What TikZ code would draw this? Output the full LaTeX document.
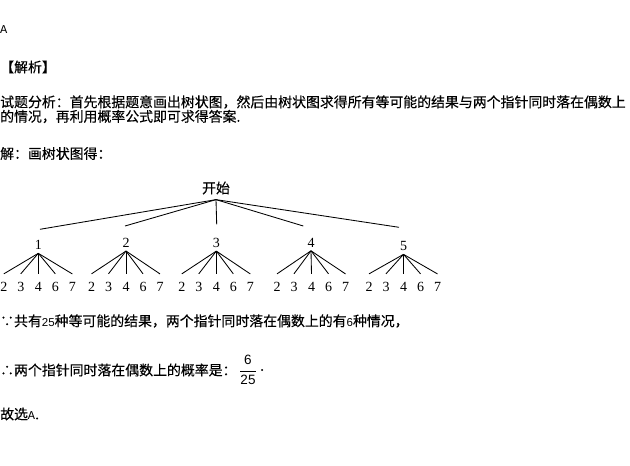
\documentclass[tikz,border=0pt]{standalone}
\usepackage{fontspec}
\newfontfamily\cjk[FakeBold=0.3]{Noto Sans CJK SC}
\newfontfamily\monofnt{Liberation Mono}
\newfontfamily\seriffnt{Liberation Serif}
\newfontfamily\sansfnt{Liberation Sans}
\newcommand{\dg}[1]{{\sansfnt\fontsize{11.5}{14}\selectfont #1}}
\newcommand{\letA}{{\monofnt\fontsize{12}{14}\selectfont A}}
\begin{document}
\begin{tikzpicture}[x=1pt,y=-1pt,
  txt/.style={anchor=west,inner sep=0pt,font=\cjk\fontsize{13.9}{16}\selectfont},
  rootnode/.style={inner xsep=0pt,inner ysep=5pt,font=\cjk\fontsize{13.9}{16}\selectfont},
  lvone/.style={inner xsep=0pt,inner ysep=3.5pt,font=\seriffnt\fontsize{14}{16}\selectfont},
  leaf/.style={inner xsep=0pt,inner ysep=8pt,font=\seriffnt\fontsize{14}{16}\selectfont},
  branch/.style={draw=black,line width=0.85pt},
  fracnum/.style={inner sep=0pt,font=\sansfnt\fontsize{13.5}{15}\selectfont}]
\useasboundingbox[fill=white] (0,0) rectangle (630,466);
% text lines
\node[txt] (ans) at (0,30) {\letA};
\node[txt] (jx) at (0,67) {【解析】};
\node[txt] (l1) at (0,102) {试题分析：首先根据题意画出树状图，然后由树状图求得所有等可能的结果与两个指针同时落在偶数上};
\node[txt] (l2) at (0,116.5) {的情况，再利用概率公式即可求得答案.};
\node[txt] (l3) at (0,153.5) {解：画树状图得：};
\node[txt] (l4) at (0,321) {∵共有\dg{25}种等可能的结果，两个指针同时落在偶数上的有\dg{6}种情况，};
\node[txt] (l5) at (0,370) {∴两个指针同时落在偶数上的概率是：};
\node[fracnum] (fnum) at (248,360) {6};
\node[fracnum] (fden) at (248,379.5) {25};
\draw[line width=0.8pt] (fden.west|-0,371) coordinate (fbl) -- (fden.east|-0,371) coordinate (fbr);
\node[txt] (dot) at (260,370) {.};
\node[txt] (l6) at (0,414) {故选\letA.};
% tree
\node[rootnode] (root) at (216,188) {开始};
\node[lvone] (n1) at (38.3,245) {1};
\node[lvone] (n2) at (126,242.7) {2};
\node[lvone] (n3) at (216.3,242.7) {3};
\node[lvone] (n4) at (311,242.5) {4};
\node[lvone] (n5) at (403.5,246) {5};
\coordinate (e1) at (40,229.3);
\coordinate (e2) at (125,226);
\coordinate (e3) at (216.7,224.3);
\coordinate (e4) at (303.3,226);
\coordinate (e5) at (399,227.3);
\foreach \i in {1,...,5} \draw[branch] (root.south) -- (e\i);
\foreach \i/\cx in {1/38.3,2/126,3/216.3,4/311.5,5/403.5}{
  \foreach \j/\dx/\lab in {a/-34.5/2,b/-17.5/3,c/0/4,d/17/6,e/34/7}{
    \node[leaf] (n\i\j) at (\cx+\dx,286.7) {\lab};
    \draw[branch] (n\i.south) -- (n\i\j.north);
  }
}
\end{tikzpicture}
\end{document}
